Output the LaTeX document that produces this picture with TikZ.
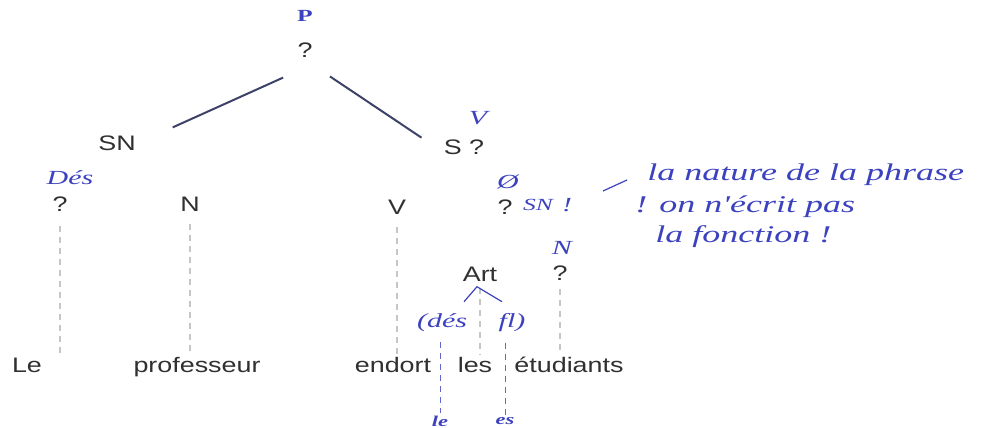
\documentclass[tikz,border=0pt]{standalone}
\usepackage{fontspec}
\newfontfamily\typed[FakeStretch=1.28]{Liberation Sans}
\newfontfamily\hand[FakeStretch=1.5]{Liberation Serif}
\definecolor{ink}{RGB}{60,66,190}
\definecolor{pen}{RGB}{62,66,104}
\definecolor{typo}{RGB}{48,48,48}

\begin{document}
\begin{tikzpicture}[x=0.5pt,y=-0.5pt,
                    cat node/.style={inner sep=1pt,font=\typed\fontsize{10.5}{12}\selectfont,text=typo},
                    word node/.style={cat node,anchor=base},
                    hand node/.style={inner sep=1pt,font=\hand\itshape\fontsize{10}{12}\selectfont,text=ink},
                    note node/.style={hand node,anchor=west,font=\hand\itshape\fontsize{12}{14}\selectfont},
                    small hand/.style={hand node,font=\hand\itshape\bfseries\fontsize{7.5}{9}\selectfont},
                    tree edge/.style={draw=pen,line width=1pt},
                    leaf edge/.style={draw=gray!45,line width=0.6pt,dash pattern=on 3pt off 2.5pt},
                    ink edge/.style={draw=ink!80,line width=0.5pt,dash pattern=on 3pt off 2.5pt}]

        \useasboundingbox (0,0) rectangle (987,428);

        % Define vertices
        \node[cat node] (root) at (305,50) {?};
        \node[cat node] (sn) at (117,143) {SN};
        \node[cat node] (s) at (464,147) {S ?};
        \node[cat node] (det) at (60,204) {?};
        \node[cat node] (n) at (190,204) {N};
        \node[cat node] (v) at (397,207) {V};
        \node[cat node] (obj) at (505,207) {?};
        \node[cat node] (art) at (480,274) {Art};
        \node[cat node] (nom) at (560,273) {?};

        % Words
        \node[word node] (le) at (27,372) {Le};
        \node[word node] (prof) at (197,372) {professeur};
        \node[word node] (endort) at (393,372) {endort};
        \node[word node] (les) at (475,372) {les};
        \node[word node] (etud) at (569,372) {étudiants};

        % Handwritten corrections
        \node[hand node,font=\hand\bfseries\fontsize{8.5}{10}\selectfont] (p) at (305,16) {P};
        \node[hand node] (des) at (70,178) {Dés};
        \node[hand node] (sv) at (478,118) {V};
        \node[hand node] (zero) at (508,182) {Ø};
        \node[hand node,font=\hand\itshape\fontsize{8.5}{10}\selectfont] (snobj) at (538,205) {SN};
        \node[hand node] (bang) at (567,205) {!};
        \node[hand node] (nobj) at (562,248) {N};
        \node[hand node] (desart) at (442,323) {(dés};
        \node[hand node] (fl) at (512,323) {fl)};
        \node[small hand] (lebot) at (440,421) {le};
        \node[small hand] (esbot) at (505,421) {es};

        % Note
        \node[note node] (note1) at (645,175) {la nature de la phrase};
        \node[note node] (note2) at (633,207) {! on n'écrit pas};
        \node[note node] (note3) at (653,237) {la fonction !};
        \coordinate (dasha) at (603,191);
        \coordinate (dashb) at (627,180);

        % Draw edges
        \path[tree edge]
            ([yshift=-4pt]root.south) edge[shorten <=12pt, shorten >=19pt] (sn.east)
            (root.south) edge[shorten <=15pt, shorten >=12pt] ([yshift=-2pt]s.west);

        \path[leaf edge]
            (det.south) edge[shorten <=6pt] (det.south |- le.north)
            (n.south) edge[shorten <=5pt] (n.south |- prof.north)
            (v.south) edge[shorten <=5pt] (v.south |- endort.north)
            (art.south) edge[shorten <=2pt] (art.south |- les.north)
            (nom.south) edge[shorten <=3pt] (nom.south |- etud.north);

        \path[ink edge]
            (lebot |- desart.south) edge[shorten <=4pt] (lebot.north)
            (esbot |- fl.south) edge[shorten <=4pt] (esbot.north);

        \draw[ink,line width=0.6pt] ([shift={(-16,18)}]art.south) -- ([shift={(-3,3)}]art.south) -- ([shift={(22,18)}]art.south);
        \draw[ink,line width=0.6pt] (dasha) -- (dashb);

        \end{tikzpicture}
\end{document}
